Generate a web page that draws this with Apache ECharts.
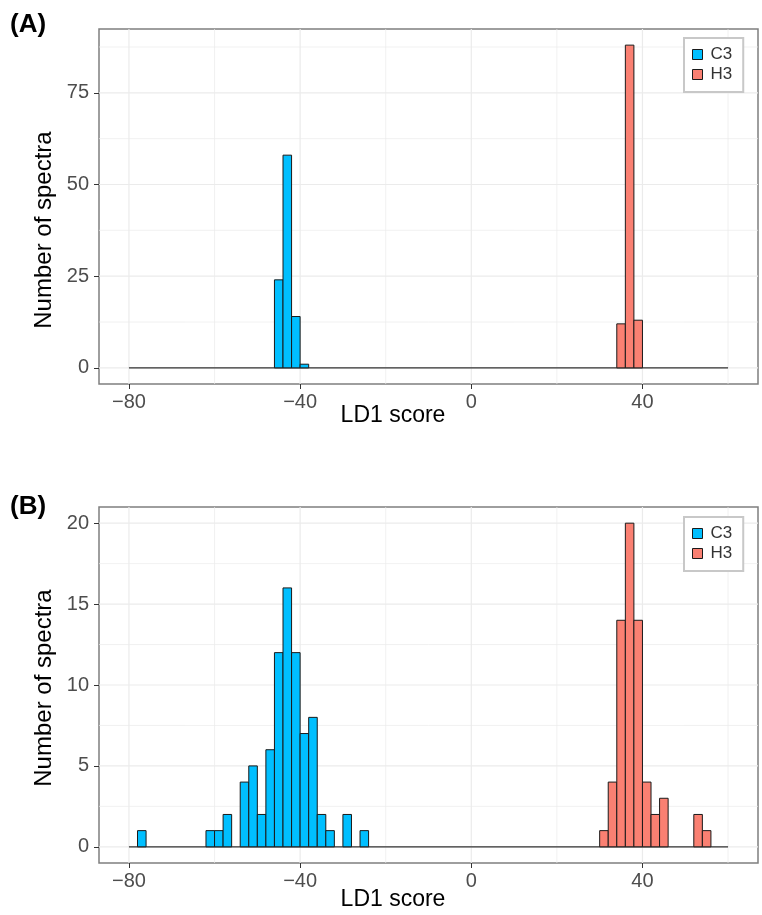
<!DOCTYPE html>
<html>
<head>
<meta charset="utf-8">
<script src="https://cdn.jsdelivr.net/npm/echarts@6/dist/echarts.min.js"></script>
<style>
html, body { margin: 0; padding: 0; background: #fff; }
#chart { width: 762px; height: 915px; }
</style>
</head>
<body>
<div id="chart"></div>
<script>
// histogram bins, 2 units wide, given by left edge
var binWidth = 2;
var binMin = -80, binMax = 60;

// panel (A)
var aC3Left = [-46, -44, -42, -40];
var aC3Count = [24, 58, 14, 1];
var aH3Left = [34, 36, 38];
var aH3Count = [12, 88, 13];

// panel (B)
var bC3Left = [-78, -62, -60, -58, -54, -52, -50, -48, -46, -44, -42, -40, -38, -36, -34, -30, -26];
var bC3Count = [1, 1, 1, 2, 4, 5, 2, 6, 12, 16, 12, 7, 8, 2, 1, 2, 1];
var bH3Left = [30, 32, 34, 36, 38, 40, 42, 44, 52, 54];
var bH3Count = [1, 4, 14, 20, 14, 4, 2, 3, 2, 1];

// ticks
var xTicks = [-80, -40, 0, 40];
var xMinor = [-60, -20, 20, 60];
var aYTicks = [0, 25, 50, 75];
var aYMinor = [12.5, 37.5, 62.5, 87.5];
var bYTicks = [0, 5, 10, 15, 20];
var bYMinor = [2.5, 7.5, 12.5, 17.5];

var c3Color = '#00BFFF';
var h3Color = '#FA8072';
var font = 'Liberation Sans';

function pairs(a, b) {
    return a.map(function(v, i) { return [v, b[i]]; });
}
function gridData(major, minor) {
    return major.map(function(v) { return [v, 1]; })
        .concat(minor.map(function(v) { return [v, 0]; }));
}

function renderBar(params, api) {
    var x0 = api.value(0), n = api.value(1);
    var p0 = api.coord([x0, n]);
    var p1 = api.coord([x0 + binWidth, 0]);
    return {
        type: 'rect',
        shape: {x: p0[0], y: p0[1], width: p1[0] - p0[0], height: p1[1] - p0[1]},
        style: {fill: api.visual('color'), stroke: '#1a1a1a', lineWidth: 1}
    };
}
function renderVGrid(params, api) {
    var cs = params.coordSys;
    var x = api.coord([api.value(0), 0])[0];
    return {
        type: 'line',
        shape: {x1: x, y1: cs.y, x2: x, y2: cs.y + cs.height},
        style: {stroke: '#EBEBEB', lineWidth: api.value(1) ? 1.2 : 0.7}
    };
}
function renderHGrid(params, api) {
    var cs = params.coordSys;
    var y = api.coord([0, api.value(0)])[1];
    return {
        type: 'line',
        shape: {x1: cs.x, y1: y, x2: cs.x + cs.width, y2: y},
        style: {stroke: '#EBEBEB', lineWidth: api.value(1) ? 1.2 : 0.7}
    };
}
function minusSign(v) {
    return String(v).replace('-', '\u2212');
}

function xAxisFor(idx) {
    return {
        type: 'value', gridIndex: idx, min: -87, max: 67,
        axisLine: {show: false, onZero: false},
        splitLine: {show: false},
        axisTick: {show: true, customValues: xTicks, length: 5, lineStyle: {color: '#333', width: 1}},
        axisLabel: {customValues: xTicks, fontSize: 20, color: '#4D4D4D', fontFamily: font, margin: 8,
                    formatter: minusSign}
    };
}
function yAxisFor(idx, min, max, ticks) {
    return {
        type: 'value', gridIndex: idx, min: min, max: max,
        axisLine: {show: false, onZero: false},
        splitLine: {show: false},
        axisTick: {show: true, customValues: ticks, length: 5, lineStyle: {color: '#333', width: 1}},
        axisLabel: {customValues: ticks, fontSize: 20, color: '#4D4D4D', fontFamily: font, margin: 10}
    };
}
function legendFor(top) {
    return {
        orient: 'vertical', left: 684, top: top,
        icon: 'rect', itemWidth: 10, itemHeight: 10, itemGap: 3,
        padding: [8, 11, 9, 8],
        borderColor: '#C8C8C8', borderWidth: 2, backgroundColor: '#fff',
        selectedMode: false,
        textStyle: {fontSize: 17, color: '#333', fontFamily: font, padding: [0, 0, 0, 3]},
        data: [
            {name: 'C3', itemStyle: {color: c3Color, borderColor: '#1a1a1a', borderWidth: 1}},
            {name: 'H3', itemStyle: {color: h3Color, borderColor: '#1a1a1a', borderWidth: 1}}
        ]
    };
}
function panelSeries(idx, c3, h3, yMajor, yMinor) {
    return [
        {type: 'custom', xAxisIndex: idx, yAxisIndex: idx, z: 1, silent: true,
         renderItem: renderVGrid, data: gridData(xTicks, xMinor)},
        {type: 'custom', xAxisIndex: idx, yAxisIndex: idx, z: 1, silent: true,
         renderItem: renderHGrid, data: gridData(yMajor, yMinor)},
        {type: 'line', xAxisIndex: idx, yAxisIndex: idx, z: 2, silent: true,
         symbol: 'none', lineStyle: {color: '#333', width: 1.2},
         data: [[binMin, 0], [binMax, 0]]},
        {name: 'C3', type: 'custom', xAxisIndex: idx, yAxisIndex: idx, z: 3,
         itemStyle: {color: c3Color}, renderItem: renderBar, data: c3},
        {name: 'H3', type: 'custom', xAxisIndex: idx, yAxisIndex: idx, z: 3,
         itemStyle: {color: h3Color}, renderItem: renderBar, data: h3}
    ];
}

var myChart = echarts.init(document.getElementById('chart'), null, {renderer: 'canvas'});

myChart.setOption({
    animation: false,
    backgroundColor: '#fff',
    grid: [
        {left: 99, top: 29, right: 4, height: 355, show: true,
         borderColor: '#7F7F7F', borderWidth: 1.5, backgroundColor: '#fff'},
        {left: 99, top: 507, right: 4, height: 356, show: true,
         borderColor: '#7F7F7F', borderWidth: 1.5, backgroundColor: '#fff'}
    ],
    xAxis: [xAxisFor(0), xAxisFor(1)],
    yAxis: [yAxisFor(0, -4.4, 92.4, aYTicks), yAxisFor(1, -1, 21, bYTicks)],
    legend: [legendFor(38), legendFor(517)],
    series: panelSeries(0, pairs(aC3Left, aC3Count), pairs(aH3Left, aH3Count), aYTicks, aYMinor)
        .concat(panelSeries(1, pairs(bC3Left, bC3Count), pairs(bH3Left, bH3Count), bYTicks, bYMinor)),
    graphic: [
        {type: 'text', left: 10, top: 12, style: {text: '(A)', fontSize: 26, fontWeight: 'bold', fontFamily: font, fill: '#000'}},
        {type: 'text', left: 10, top: 494, style: {text: '(B)', fontSize: 26, fontWeight: 'bold', fontFamily: font, fill: '#000'}},
        {type: 'text', x: 44, y: 230, rotation: Math.PI / 2,
         style: {text: 'Number of spectra', fontSize: 24, fontFamily: font, fill: '#000', align: 'center', verticalAlign: 'middle'}},
        {type: 'text', x: 44, y: 688, rotation: Math.PI / 2,
         style: {text: 'Number of spectra', fontSize: 24, fontFamily: font, fill: '#000', align: 'center', verticalAlign: 'middle'}},
        {type: 'text', x: 393, y: 416,
         style: {text: 'LD1 score', fontSize: 23, fontFamily: font, fill: '#000', align: 'center', verticalAlign: 'middle'}},
        {type: 'text', x: 393, y: 900,
         style: {text: 'LD1 score', fontSize: 23, fontFamily: font, fill: '#000', align: 'center', verticalAlign: 'middle'}}
    ]
});
window.onresize = myChart.resize;
</script>
</body>
</html>
